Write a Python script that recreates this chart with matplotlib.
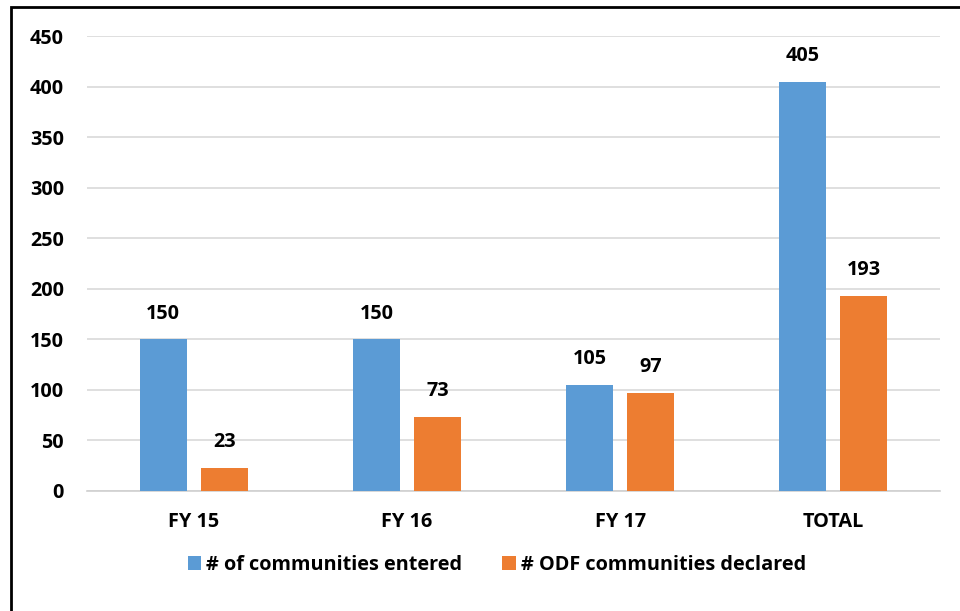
import matplotlib
matplotlib.use("Agg")
import matplotlib.pyplot as plt
import numpy as np
from matplotlib.patches import Rectangle

categories = ["FY 15", "FY 16", "FY 17", "TOTAL"]
entered = [150, 150, 105, 405]
declared = [23, 73, 97, 193]
series_names = ["# of communities entered", "# ODF communities declared"]

plt.rcParams["font.family"] = ["Open Sans", "DejaVu Sans"]
plt.rcParams["font.weight"] = "bold"
fs = 14.3

fig = plt.figure(figsize=(9.6, 6.11), dpi=100)
ax = fig.add_axes([87 / 960, 120 / 611, 853 / 960, 455 / 611])

x = np.arange(len(categories))
width = 0.22
offset = 0.143
b1 = ax.bar(x - offset, entered, width, color="#5B9BD5", label=series_names[0], zorder=3)
b2 = ax.bar(x + offset, declared, width, color="#ED7D31", label=series_names[1], zorder=3)

for bars in (b1, b2):
    for rect in bars:
        h = rect.get_height()
        ax.annotate(f"{h:g}", (rect.get_x() + rect.get_width() / 2, h),
                    xytext=(0, 18.5), textcoords="offset points",
                    ha="center", va="center", fontsize=fs, fontweight="bold")

ax.set_xlim(-0.5, len(categories) - 0.5)
ax.set_ylim(0, 450)
ax.set_yticks(np.arange(0, 451, 50))
ax.set_xticks(x)
ax.set_xticklabels(categories)
ax.tick_params(axis="both", length=0, labelsize=fs)
ax.tick_params(axis="y", pad=16.5)
ax.tick_params(axis="x", pad=15)
for lab in ax.get_xticklabels() + ax.get_yticklabels():
    lab.set_fontweight("bold")

ax.yaxis.grid(True, color="#d9d9d9", linewidth=1.2, zorder=0)
for side in ("top", "right", "left"):
    ax.spines[side].set_visible(False)
ax.spines["bottom"].set_color("#d0d0d0")
ax.spines["bottom"].set_linewidth(1.2)

leg = fig.legend(loc="center", bbox_to_anchor=(497 / 960, 1 - 565 / 611), ncol=2,
                 frameon=False, fontsize=fs, handlelength=0.7, handleheight=0.7,
                 handletextpad=0.25, columnspacing=2.0)
for t in leg.get_texts():
    t.set_fontweight("bold")

fig.patches.append(Rectangle((11 / 960, -0.05), 1.1, 1 - 7 / 611 + 0.05,
                             transform=fig.transFigure, fill=False,
                             edgecolor="black", linewidth=2))

fig.savefig("out.png", dpi=100)
